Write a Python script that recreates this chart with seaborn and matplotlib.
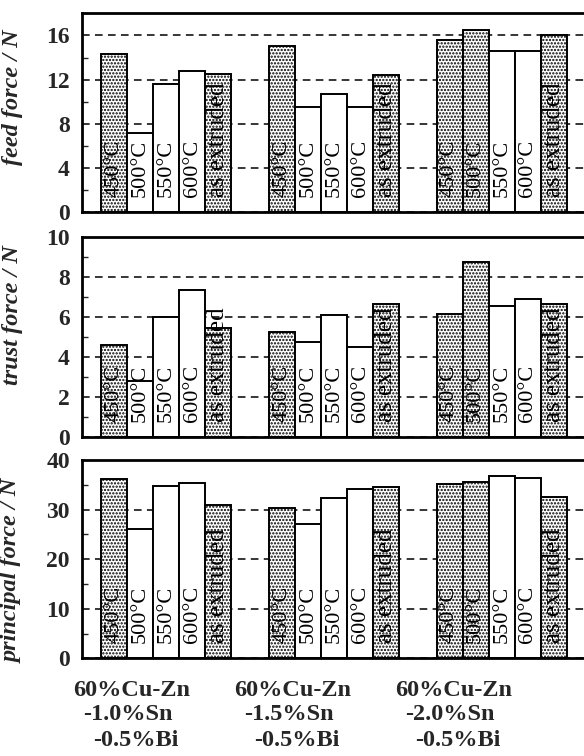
import numpy as np
import pandas as pd
import seaborn as sns
import matplotlib.pyplot as plt
from matplotlib.ticker import MultipleLocator

alloys = ["1.0Sn", "1.5Sn", "2.0Sn"]
conditions = ["450°C", "500°C", "550°C", "600°C", "as extruded"]
alloy_lines = [["60%Cu-Zn", "-1.0%Sn", "-0.5%Bi"],
               ["60%Cu-Zn", "-1.5%Sn", "-0.5%Bi"],
               ["60%Cu-Zn", "-2.0%Sn", "-0.5%Bi"]]

feed = [[14.35, 7.2, 11.6, 12.75, 12.5],
        [15.0, 9.5, 10.7, 9.5, 12.4],
        [15.55, 16.5, 14.6, 14.6, 16.0]]
trust = [[4.6, 2.8, 6.03, 7.35, 5.48],
         [5.28, 4.77, 6.1, 4.52, 6.65],
         [6.18, 8.74, 6.56, 6.9, 6.68]]
principal = [[36.1, 26.1, 34.8, 35.4, 30.9],
             [30.4, 27.0, 32.4, 34.1, 34.5],
             [35.1, 35.5, 36.8, 36.3, 32.6]]

# which bars are drawn dotted
dotted = [[1, 0, 0, 0, 1],
          [1, 0, 0, 0, 1],
          [1, 1, 0, 0, 1]]

panels = [("feed force / N", feed, 18, 4, 2),
          ("trust force / N", trust, 10, 2, 1),
          ("principal force / N", principal, 40, 10, 5)]

sns.set_theme(style="white")
plt.rcParams['font.family'] = ['Liberation Serif', 'DejaVu Serif']
plt.rcParams['hatch.linewidth'] = 1.1
plt.rcParams['hatch.color'] = 'black'

fig = plt.figure(figsize=(5.84, 7.56), dpi=100)
H = 756.0
boxes = [(13.3, 212.3), (237.3, 437.3), (460.0, 658.3)]
label_y = [0.577, 0.61, 0.44]

for k, (ylabel, vals, ymax, major, minor) in enumerate(panels):
    top, bot = boxes[k]
    ax = fig.add_axes([82.3 / 584, 1 - bot / H, 501.7 / 584, (bot - top) / H])
    rows = []
    for i, a in enumerate(alloys):
        for j, c in enumerate(conditions):
            rows.append({"alloy": a, "condition": c, "value": vals[i][j]})
    df = pd.DataFrame(rows)
    sns.barplot(data=df, x="alloy", y="value", hue="condition",
                order=alloys, hue_order=conditions,
                palette=["white"] * 5, edgecolor="black", linewidth=1.4,
                width=0.778, saturation=1, legend=False, ax=ax, errorbar=None)
    for j, cont in enumerate(ax.containers):
        for i, bar in enumerate(cont):
            if dotted[i][j]:
                bar.set_hatch(".....")
            xc = bar.get_x() + bar.get_width() / 2
            ax.annotate(conditions[j], xy=(xc, 0), xytext=(0, 11),
                        textcoords="offset points", rotation=90,
                        ha="center", va="bottom",
                        fontsize=18 if j == 4 else 16, zorder=5,
                        color="black")
    ax.set_xlim(-0.5, 2.49)
    ax.set_ylim(0, ymax)
    ax.yaxis.set_major_locator(MultipleLocator(major))
    ax.yaxis.set_minor_locator(MultipleLocator(minor))
    ax.set_xticks([0.5, 1.5])
    ax.set_xticklabels([])
    ax.set_xlabel("")
    ax.tick_params(axis="x", direction="in", length=4, width=1)
    ax.tick_params(axis="y", which="major", direction="in", length=0, pad=9,
                   labelsize=17)
    ax.tick_params(axis="y", which="minor", direction="in", length=4, width=1,
                   left=True)
    for t in ax.get_yticklabels():
        t.set_fontweight("bold")
    ax.yaxis.grid(True, which="major", linestyle=(0, (5, 3.5)),
                  color="black", linewidth=1.1)
    ax.set_axisbelow(True)
    for s in ["top", "left", "bottom"]:
        ax.spines[s].set_color("black")
        ax.spines[s].set_linewidth(2)
    ax.spines["right"].set_visible(False)
    ax.set_ylabel(ylabel, fontsize=17.5, fontstyle="italic", fontweight="bold")
    ax.yaxis.set_label_coords(-0.118, label_y[k])

line_y = [691, 715, 740]
indent = [0, 10, 20]
for i, lines in enumerate(alloy_lines):
    for n, txt in enumerate(lines):
        fig.text((73.3 + 161 * i + indent[n]) / 584, 1 - line_y[n] / H, txt,
                 ha="left", va="center", fontsize=17.5, fontweight="bold")

fig.savefig("out.png", dpi=100)
